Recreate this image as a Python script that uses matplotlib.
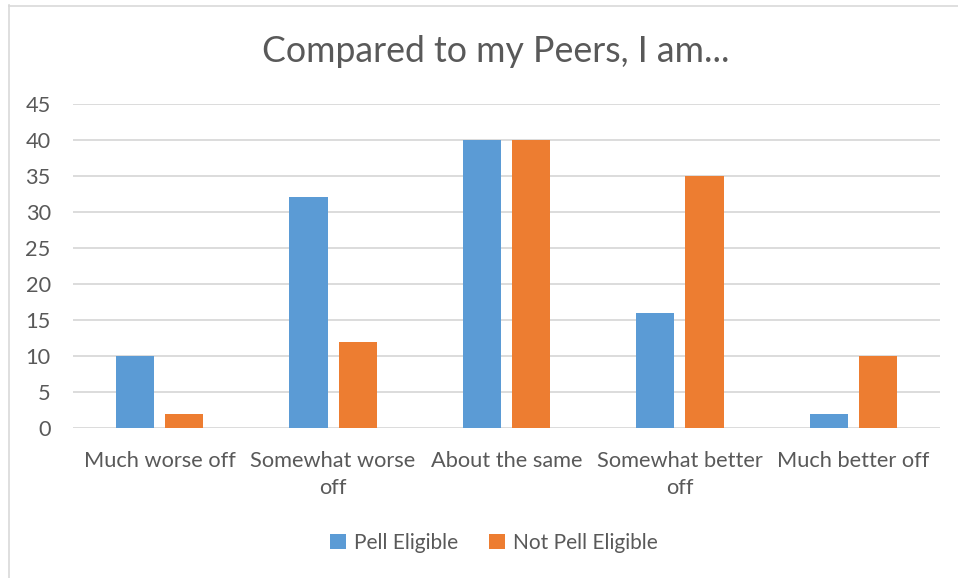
import matplotlib
matplotlib.use("Agg")
import matplotlib.pyplot as plt
import numpy as np

categories = ["Much worse off", "Somewhat worse\noff", "About the same", "Somewhat better\noff", "Much better off"]
pell = [10, 32, 40, 16, 2]
not_pell = [2, 12, 40, 35, 10]
series_names = ["Pell Eligible", "Not Pell Eligible"]
yticks = [0, 5, 10, 15, 20, 25, 30, 35, 40, 45]
title = "Compared to my Peers, I am..."

plt.rcParams['font.family'] = ['Lato', 'DejaVu Sans']
txt = '#595959'
grid = '#D9D9D9'
blue = '#5B9BD5'
orange = '#ED7D31'

fig = plt.figure(figsize=(9.58, 5.78), dpi=100)
# outer chart border (left and top visible)
fig.add_artist(plt.Line2D([8.5/958, 8.5/958], [0, 1 - 5/578], transform=fig.transFigure, color=grid, lw=1.2))
fig.add_artist(plt.Line2D([8.5/958, 1], [1 - 5.5/578, 1 - 5.5/578], transform=fig.transFigure, color=grid, lw=1.2))

ax = fig.add_axes([73/958, 1 - 428.3/578, (940 - 73)/958, (428.3 - 103.7)/578])
x = np.arange(len(categories))
w = 0.221
off = 0.142
ax.bar(x - off, pell, w, color=blue, label=series_names[0], zorder=3)
ax.bar(x + off, not_pell, w, color=orange, label=series_names[1], zorder=3)

ax.set_xlim(-0.5, len(categories) - 0.5)
ax.set_ylim(0, 45)
ax.set_yticks(yticks)
ax.yaxis.grid(True, color=grid, lw=1.3, zorder=0)
ax.set_axisbelow(True)
for s in ax.spines.values():
    s.set_visible(False)
ax.tick_params(axis='both', length=0, colors=txt, labelsize=15.7)
ax.tick_params(axis='y', pad=16)
ax.tick_params(axis='x', pad=16)
ax.set_xticks(x)
ax.set_xticklabels(categories, linespacing=1.45)
for lab in ax.get_xticklabels():
    lab.set_horizontalalignment('center')

fig.text(496/958, 1 - 52/578, title, ha='center', va='center', fontsize=25.7, color=txt)

leg = fig.legend(loc='center', bbox_to_anchor=(494/958, 1 - 543/578), ncol=2, frameon=False,
                 fontsize=15.0, labelcolor=txt, handlelength=0.75, handleheight=0.75,
                 handletextpad=0.4, columnspacing=1.5)
fig.savefig("out.png", dpi=100, facecolor='white')
